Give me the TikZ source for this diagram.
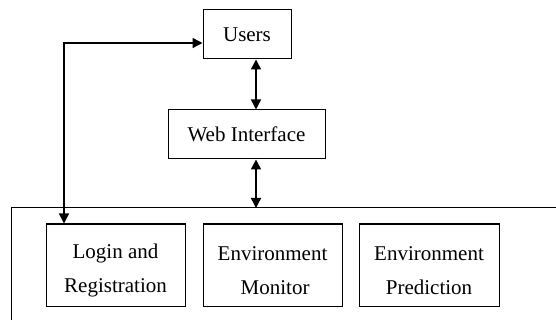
\documentclass[tikz,border=0pt]{standalone}
\usepackage{fontspec}
\setmainfont{Liberation Serif}
\usetikzlibrary{arrows.meta}

\newcommand{\toppad}{\rule{0pt}{26pt}}

\tikzset{
  modbox/.style={draw=black,line width=1pt,align=center,inner sep=0pt,
    font=\fontsize{21}{34}\selectfont},
  link/.style={line width=1.4pt,{Triangle[length=10pt,width=10pt]}-{Triangle[length=10pt,width=10pt]}}
}

\begin{document}
\begin{tikzpicture}[line cap=butt,line join=miter,x=1pt,y=-1pt]
\useasboundingbox (0,0) rectangle (556,320);
\clip (0,0) rectangle (556,320);
% boxes
\node[modbox,minimum width=88pt,minimum height=49pt] (users) at (247,34.5) {Users};
\node[modbox,minimum width=157pt,minimum height=49pt] (web) at (246.5,134.5) {Web Interface};
\node[modbox,minimum width=139pt,minimum height=82pt] (login) at (115.5,265) {\toppad Login and\\Registration};
\node[modbox,minimum width=139pt,minimum height=82pt] (monitor) at (272.5,265) {\toppad Environment\\\ Monitor};
\node[modbox,minimum width=140pt,minimum height=82pt] (predict) at (429,265) {\toppad Environment\\Prediction};
% outer frame
\coordinate (frame) at (11,208);
\draw[line width=1pt] (570,208) -| (11,330);
% connectors
\coordinate (ax) at (256,0);
\coordinate (lx) at (64,43);
\draw[link] (users.south -| ax) -- (web.north -| ax);
\draw[link] (web.south -| ax) -- (ax |- frame);
\draw[link] (login.north -| lx) |- (users.west |- lx);
\end{tikzpicture}
\end{document}
